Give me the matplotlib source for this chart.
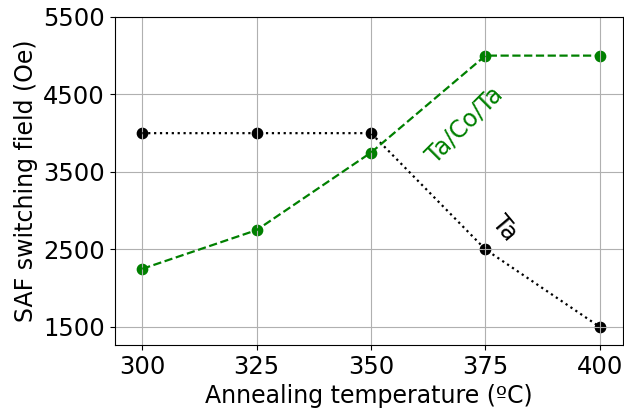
import matplotlib
matplotlib.use("Agg")
import matplotlib.pyplot as plt

temps = [300, 325, 350, 375, 400]
ta = [4000, 4000, 4000, 2500, 1500]
tacota = [2250, 2750, 3750, 5000, 5000]
yticks = [1500, 2500, 3500, 4500, 5500]

fig = plt.figure(figsize=(6.24, 4.11), dpi=100)
ax = fig.add_axes([0.184, 0.161, 0.814, 0.798])

ax.plot(temps, ta, color='black', linestyle=':', linewidth=1.6)
ax.scatter(temps, ta, color='black', s=55)
ax.plot(temps, tacota, color='green', linestyle='--', linewidth=1.6)
ax.scatter(temps, tacota, color='green', s=55)

ax.grid(True)
ax.set_xlim(294, 405)
ax.set_ylim(1270, 5500)
ax.set_xticks(temps)
ax.set_yticks(yticks)
ax.tick_params(labelsize=17.5)
ax.set_xlabel('Annealing temperature (ºC)', fontsize=17)
ax.set_ylabel('SAF switching field (Oe)', fontsize=17)

ax.text(370.5, 4106, 'Ta/Co/Ta', color='green', fontsize=17, rotation=45,
        ha='center', va='center')
ax.text(379.2, 2777, 'Ta', color='black', fontsize=17, rotation=-50,
        ha='center', va='center')

fig.savefig('out.png', dpi=100)
